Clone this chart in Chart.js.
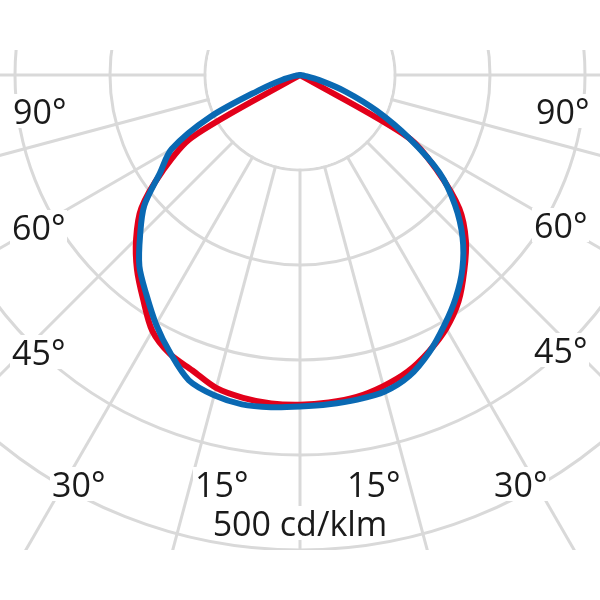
<!DOCTYPE html>
<html>
<head>
<meta charset="utf-8">
<script src="https://cdn.jsdelivr.net/npm/chart.js@4.4.1/dist/chart.umd.min.js"></script>
<style>
  html, body { margin: 0; padding: 0; background: #fff; }
  #page { position: relative; width: 600px; height: 600px; overflow: hidden; background: #fff; }
  #clip { position: absolute; left: 0; top: 50px; width: 600px; height: 500px; overflow: hidden; }
  #polar { position: absolute; left: -270px; top: -545px; }
  .lbl { position: absolute; font-family: "Open Sans", sans-serif; font-size: 34px; line-height: 34px;
         color: #1a1a1a; background: #fff; padding: 0 2px; white-space: nowrap; }
</style>
</head>
<body>
<div id="page">
  <div id="clip"><canvas id="polar" width="1140" height="1140"></canvas></div>
</div>
<script>
// angles from nadir, one value every 5 degrees, 0..90
const angles = [0, 5, 10, 15, 20, 25, 30, 35, 40, 45, 50, 55, 60, 65, 70, 75, 80, 85, 90];

// cd/klm
const blueLeft  = [349, 351, 352, 349, 342, 323, 303, 282, 263, 238, 214, 180, 156, 104, 44, 19, 5, 0, 0];
const blueRight = [349, 348, 347, 345, 337, 322, 304, 286, 266, 242, 213, 179, 132, 89, 51, 21, 5, 0, 0];
const redLeft   = [347, 347, 345, 341, 331, 324, 311, 288, 267, 244, 218, 177, 132, 0, 0, 0, 0, 0, 0];
const redRight  = [347, 346, 344, 339, 332, 321, 308, 291, 269, 247, 219, 177, 132, 0, 0, 0, 0, 0, 0];

const sideLabels = ['90°', '60°', '45°', '30°', '15°'];
const unitLabel = '500 cd/klm';

// where the text sits on the page (left, top)
const leftPos  = [[11, 94], [10, 210], [10, 335], [50, 467], [193, 467]];
const rightPos = [[534, 94], [532, 208], [532, 333], [492, 467], [345, 467]];

const page = document.getElementById('page');
function addLabel(text, x, y, centered) {
    const el = document.createElement('div');
    el.className = 'lbl';
    el.textContent = text;
    el.style.left = x + 'px';
    el.style.top = y + 'px';
    if (centered) el.style.transform = 'translateX(-50%)';
    page.appendChild(el);
}
sideLabels.forEach((t, i) => {
    addLabel(t, leftPos[i][0], leftPos[i][1]);
    addLabel(t, rightPos[i][0], rightPos[i][1]);
});
addLabel(unitLabel, 300, 506, true);

// 72 directions around the full circle, index 0 pointing down, going clockwise (to the left)
const directions = Array.from({ length: 72 }, (_, i) => i * 5);

function around(left, right) {
    const out = directions.map(() => 0);
    angles.forEach((a, k) => {
        out[(72 - a / 5) % 72] = right[k];
    });
    angles.forEach((a, k) => {
        out[a / 5] = left[k];
    });
    return out;
}

// white centre so the spokes start at the first ring
const innerDisk = {
    id: 'innerDisk',
    beforeDatasetsDraw(chart) {
        const r = chart.scales.r;
        const ctx = chart.ctx;
        ctx.save();
        ctx.fillStyle = '#fff';
        ctx.beginPath();
        ctx.arc(r.xCenter, r.yCenter, r.getDistanceFromCenterForValue(100) - 1.5, 0, Math.PI * 2);
        ctx.fill();
        ctx.restore();
    }
};

const ctx = document.getElementById('polar').getContext('2d');
const polarChart = new Chart(ctx, {
    type: 'radar',
    data: {
        labels: directions,
        datasets: [{
            label: 'blue',
            data: around(blueLeft, blueRight),
            borderColor: '#0a69b3',
            borderWidth: 6,
            order: 0
        }, {
            label: 'red',
            data: around(redLeft, redRight),
            borderColor: '#e2001a',
            borderWidth: 6,
            order: 1
        }]
    },
    options: {
        responsive: false,
        animation: false,
        events: [],
        layout: { padding: 0 },
        elements: {
            point: { radius: 0 },
            line: { fill: false, tension: 0.3, borderJoinStyle: 'round', borderCapStyle: 'round' }
        },
        plugins: {
            legend: { display: false },
            tooltip: { enabled: false }
        },
        scales: {
            r: {
                min: 0,
                max: 600,
                startAngle: 180,
                ticks: { display: false, stepSize: 100 },
                pointLabels: { display: false },
                grid: { circular: true, color: '#d9d9d9', lineWidth: 3 },
                angleLines: {
                    lineWidth: 3,
                    color: c => {
                        const i = c.index;
                        const lower = i <= 18 || i >= 54;
                        return (lower && (i * 5) % 15 === 0) ? '#d9d9d9' : 'rgba(0,0,0,0)';
                    }
                }
            }
        }
    },
    plugins: [innerDisk]
});
</script>
</body>
</html>
